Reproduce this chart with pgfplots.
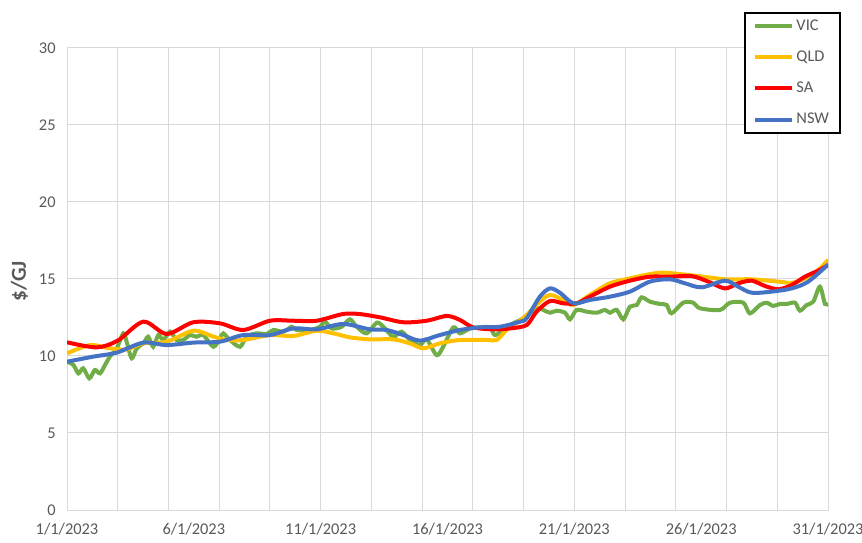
\documentclass[border=0pt]{standalone}
\usepackage{pgfplots}
\pgfplotsset{compat=1.18}
\usepackage{fontspec}
\setmainfont{Carlito}
\definecolor{vic}{HTML}{70AD47}
\definecolor{qld}{HTML}{FFC000}
\definecolor{sa}{HTML}{FF0000}
\definecolor{nsw}{HTML}{4472C4}
\definecolor{gridc}{HTML}{D9D9D9}
\definecolor{txt}{HTML}{595959}
\begin{document}
\begin{tikzpicture}
\useasboundingbox (0,0) rectangle (646.5pt,406.5pt);
\begin{axis}[
  at={(50.25pt,24pt)}, anchor=south west,
  scale only axis, width=570.75pt, height=346.5pt,
  xmin=1, xmax=31, ymin=0, ymax=30,
  xtick={1,6,11,16,21,26,31},
  xticklabels={1/1/2023,6/1/2023,11/1/2023,16/1/2023,21/1/2023,26/1/2023,31/1/2023},
  minor xtick={1,3,...,31},
  xminorgrids=true, xmajorgrids=false,
  ytick={0,5,...,30}, ymajorgrids=true,
  major tick length=0pt, minor tick length=0pt,
  grid style={draw=gridc, line width=0.75pt},
  minor grid style={draw=gridc, line width=0.75pt},
  axis line style={draw=gridc, line width=0.75pt},
  tick label style={font=\fontsize{12.3}{14}\selectfont, text=txt},
  /pgf/number format/assume math mode=true,
  xticklabel style={yshift=-6pt},
  yticklabel style={xshift=-5pt},
  ylabel={\textbf{\$/GJ}},
  ylabel style={font=\fontsize{16}{18}\selectfont, text=txt, at={(axis description cs:-0.0625,0.495)}, anchor=center},
  legend style={at={(0.8896,1.078)}, anchor=north west, draw=black, line width=1.2pt,
    font=\fontsize{12.3}{14}\selectfont, text=txt, row sep=9.8pt, inner xsep=6pt, inner ysep=3.5pt},
  legend cell align=left,
  legend image code/.code={\draw[#1, line width=3pt] (0pt,0pt) -- (27.75pt,0pt);},
  every axis plot/.append style={line width=3pt, smooth, tension=0.5},
]
\addplot[color=vic] coordinates {
(1.00,9.63)(1.25,9.42)(1.45,8.87)(1.64,9.20)(1.88,8.55)(2.10,9.09)(2.30,8.87)(2.50,9.42)
(2.69,9.96)(2.96,10.50)(3.22,11.47)(3.35,10.93)(3.55,9.85)(3.75,10.50)(4.01,10.82)(4.20,11.25)
(4.40,10.60)(4.60,11.36)(4.80,11.04)(5.06,11.58)(5.32,11.04)(5.58,11.04)(5.85,11.36)(6.11,11.25)
(6.37,11.36)(6.77,10.60)(7.03,11.15)(7.16,11.47)(7.42,11.04)(7.82,10.60)(8.08,11.26)(8.48,11.47)
(8.87,11.43)(9.13,11.69)(9.53,11.58)(9.86,11.90)(10.05,11.69)(10.58,11.69)(10.97,11.90)(11.17,12.23)
(11.43,11.79)(11.83,11.90)(12.15,12.38)(12.42,11.90)(12.81,11.47)(13.21,12.16)(13.47,11.90)(13.86,11.25)
(14.19,11.58)(14.52,11.04)(14.91,10.71)(15.18,11.08)(15.57,10.06)(15.83,10.60)(16.23,11.86)(16.49,11.47)
(16.89,11.79)(17.28,11.86)(17.67,11.86)(17.87,11.36)(18.20,11.69)(18.59,12.12)(18.99,12.45)(19.51,13.10)
(19.77,12.99)(20.04,12.81)(20.30,12.94)(20.63,12.81)(20.83,12.38)(21.09,12.99)(21.48,12.88)(21.88,12.81)
(22.21,12.99)(22.40,12.81)(22.67,12.99)(22.93,12.38)(23.19,13.20)(23.46,13.31)(23.65,13.81)(23.98,13.53)
(24.37,13.38)(24.64,13.31)(24.83,12.77)(25.29,13.46)(25.69,13.46)(25.95,13.10)(26.74,12.99)(27.13,13.46)
(27.66,13.46)(27.92,12.77)(28.32,13.31)(28.58,13.46)(28.84,13.25)(29.10,13.38)(29.37,13.38)(29.70,13.46)
(29.89,12.94)(30.16,13.31)(30.42,13.53)(30.68,14.50)(30.88,13.38)(31.01,13.42)
};
\addlegendentry{VIC}
\addplot[color=qld] coordinates {
(1.00,10.17)(1.91,10.71)(2.69,10.50)(3.35,10.43)(4.01,10.82)(4.93,10.93)(5.98,11.64)(6.77,11.26)
(7.29,11.04)(7.95,11.04)(9.00,11.36)(9.92,11.30)(10.84,11.64)(11.50,11.47)(12.15,11.21)(12.94,11.08)
(13.86,11.08)(14.52,10.82)(15.04,10.50)(15.70,10.82)(16.49,11.04)(17.54,11.04)(17.94,11.04)(18.33,11.69)
(18.86,12.30)(19.12,12.66)(19.64,13.53)(20.04,13.96)(20.56,13.64)(20.96,13.31)(21.61,13.96)(22.40,14.72)
(23.19,15.04)(23.98,15.32)(24.57,15.41)(25.88,15.19)(26.94,14.98)(27.99,14.98)(29.04,14.83)(29.57,14.75)
(30.09,15.04)(30.61,15.58)(31.01,16.25)
};
\addlegendentry{QLD}
\addplot[color=sa] coordinates {
(1.00,10.89)(2.17,10.56)(3.00,11.00)(4.01,12.23)(4.93,11.43)(5.98,12.19)(7.03,12.12)(7.95,11.69)
(9.00,12.29)(9.92,12.29)(10.84,12.29)(11.89,12.73)(12.55,12.72)(13.34,12.51)(14.26,12.19)(15.18,12.29)
(15.97,12.60)(16.49,12.34)(17.01,11.86)(17.80,11.73)(18.46,11.79)(19.12,12.01)(19.51,12.88)(20.04,13.57)
(20.56,13.42)(21.09,13.42)(21.61,13.85)(22.40,14.50)(23.19,14.89)(23.98,15.15)(24.77,15.15)(25.62,15.19)
(26.28,14.83)(26.94,14.39)(27.46,14.72)(27.99,14.89)(28.51,14.55)(29.04,14.33)(29.57,14.61)(30.09,15.15)
(30.61,15.54)(31.01,15.91)
};
\addlegendentry{SA}
\addplot[color=nsw] coordinates {
(1.00,9.63)(2.04,9.96)(2.96,10.22)(4.01,10.87)(4.93,10.71)(5.98,10.87)(7.03,10.93)(7.95,11.36)
(9.00,11.36)(9.92,11.79)(10.84,11.73)(11.89,12.08)(12.94,11.73)(13.60,11.69)(14.26,11.36)(14.91,11.00)
(15.70,11.36)(16.49,11.69)(17.28,11.86)(18.07,11.90)(18.86,12.23)(19.12,12.45)(19.64,13.85)(20.04,14.39)
(20.43,14.11)(20.96,13.42)(21.61,13.64)(22.40,13.85)(23.19,14.18)(23.98,14.83)(24.77,14.98)(25.36,14.72)
(26.02,14.46)(26.94,14.89)(27.46,14.50)(27.99,14.11)(28.78,14.18)(29.57,14.39)(30.22,14.83)(31.01,15.95)
};
\addlegendentry{NSW}
\end{axis}
\end{tikzpicture}
\end{document}
